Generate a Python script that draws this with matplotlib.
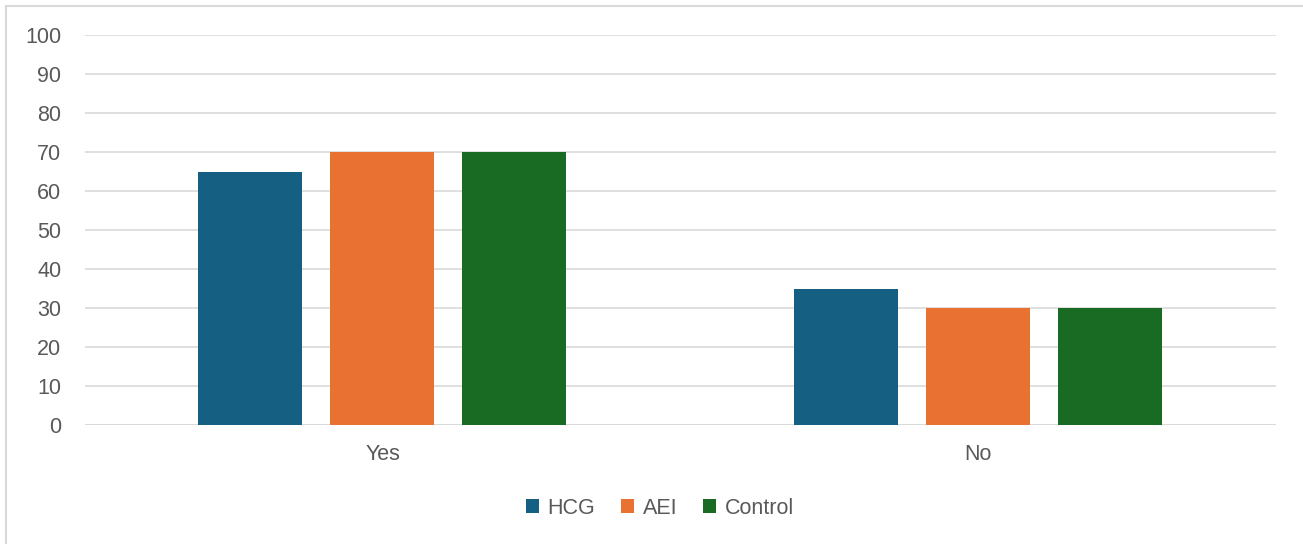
import matplotlib.pyplot as plt
from matplotlib.patches import Rectangle
import numpy as np

categories = ["Yes", "No"]
series_names = ["HCG", "AEI", "Control"]
hcg = [65, 35]
aei = [70, 30]
control = [70, 30]
colors = ["#156082", "#E97132", "#196B24"]
yticks = [0, 10, 20, 30, 40, 50, 60, 70, 80, 90, 100]

plt.rcParams['font.family'] = ['Liberation Sans', 'DejaVu Sans']
text_color = "#595959"

W, H = 1303, 544
fig = plt.figure(figsize=(W / 100, H / 100), dpi=100)
ax = fig.add_axes([85 / W, 1 - 425 / H, (1276 - 85) / W, (425 - 35) / H])

# outer chart border (runs off the right and bottom edges)
fig.patches.append(Rectangle((6 / W, -0.05), 1.1, 1 - 6 / H + 0.05,
                             transform=fig.transFigure, fill=False,
                             edgecolor="#D9D9D9", linewidth=1.5))

x = np.arange(len(categories))
bw = 104 / 595.5
step = 132 / 595.5
for i, (vals, name) in enumerate(zip([hcg, aei, control], series_names)):
    ax.bar(x + (i - 1) * step - 0.6 / 595.5, vals, width=bw, color=colors[i],
           label=name, zorder=3)

ax.set_xlim(-0.5, 1.5)
ax.set_ylim(0, 100)
ax.set_yticks(yticks)
ax.set_xticks(x)
ax.set_xticklabels(categories)
ax.tick_params(length=0, labelsize=15.5, colors=text_color)
ax.tick_params(axis="y", pad=17)
ax.tick_params(axis="x", pad=14)
ax.grid(axis="y", color="#D9D9D9", linewidth=1.2, zorder=0)
for s in ax.spines.values():
    s.set_visible(False)
ax.axhline(0, color="#D9D9D9", linewidth=1.2, zorder=2)

leg = fig.legend(loc="center", bbox_to_anchor=(660 / W, 1 - 508 / H), ncol=3,
                 frameon=False, fontsize=15.5, handlelength=0.6, handleheight=0.6,
                 handletextpad=0.4, columnspacing=1.2)
for t in leg.get_texts():
    t.set_color(text_color)

fig.savefig("out.png", dpi=100)
